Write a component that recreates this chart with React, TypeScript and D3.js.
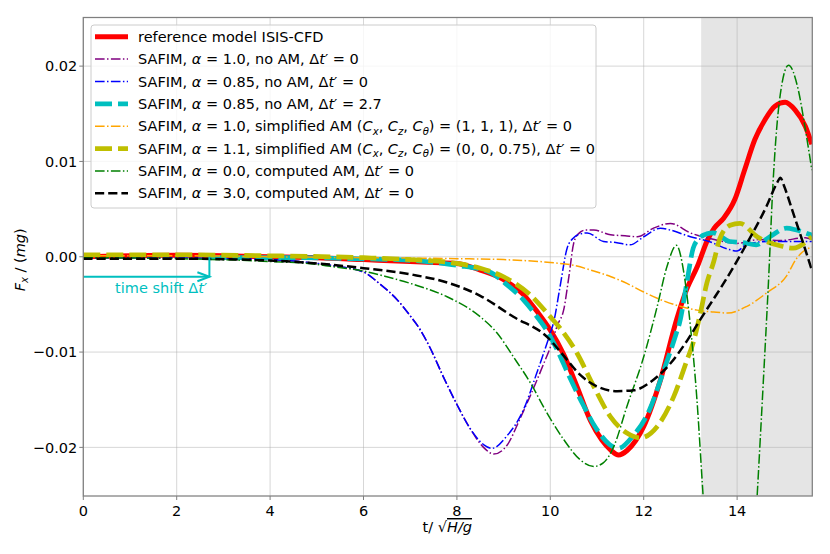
import * as d3 from 'd3';

// time axis t/sqrt(H/g), force Fx/(mg)
const tRef = [0, 1, 2, 3, 4, 5, 6, 7, 7.5, 8, 8.5, 9, 9.43, 9.71, 10, 10.29, 10.57, 10.86, 11.1, 11.3, 11.46, 11.65, 12, 12.36, 12.71, 12.93, 13.15, 13.37, 13.51, 13.72, 13.95, 14.16, 14.38, 14.6, 14.81, 15.03, 15.24, 15.46, 15.6];
const fxRef = [0.0, 0.0001, 0.00015, 0.0001, 0.0, -0.0001, -0.0003, -0.0005, -0.0006, -0.0007, -0.0014, -0.0024, -0.004, -0.0057, -0.0077, -0.0103, -0.0136, -0.0172, -0.0192, -0.0203, -0.0208, -0.0203, -0.0178, -0.0129, -0.0065, -0.0033, -0.001, 0.0018, 0.003, 0.0041, 0.006, 0.0091, 0.0123, 0.0144, 0.0158, 0.0162, 0.0154, 0.0137, 0.0118];

const tA10 = [0, 2, 3, 4, 5, 5.29, 6, 6.36, 6.72, 7.0, 7.22, 7.43, 7.71, 8.0, 8.28, 8.57, 8.79, 9.07, 9.35, 9.57, 9.86, 10.0, 10.15, 10.29, 10.4, 10.5, 10.6, 10.75, 10.93, 11.29, 11.6, 11.86, 12.21, 12.57, 13.0, 13.51, 14.0, 14.45, 14.93, 15.46, 15.6];
const fxA10 = [-0.0001, -0.0001, -0.0002, -0.0003, -0.0007, -0.0009, -0.0016, -0.0029, -0.0045, -0.0062, -0.0077, -0.0096, -0.0126, -0.0155, -0.018, -0.02, -0.0207, -0.0198, -0.017, -0.0146, -0.0112, -0.0095, -0.0072, -0.0055, -0.002, 0.0014, 0.0024, 0.0028, 0.0028, 0.0023, 0.0022, 0.0021, 0.003, 0.0035, 0.0025, 0.0018, 0.0014, 0.0018, 0.0017, 0.002, 0.0018];

const tA085 = [0, 2, 3, 4, 5, 5.29, 6, 6.36, 6.72, 7.0, 7.22, 7.43, 7.71, 8.0, 8.28, 8.57, 8.75, 9.07, 9.43, 9.71, 10, 10.07, 10.21, 10.36, 10.5, 10.65, 10.79, 11.14, 11.4, 11.71, 12, 12.36, 12.57, 13.0, 13.4, 13.8, 14.0, 14.2, 14.66, 15.6];
const fxA085 = [-0.0001, -0.0001, -0.0002, -0.0003, -0.0007, -0.0009, -0.0016, -0.0029, -0.0045, -0.0062, -0.0077, -0.0096, -0.0126, -0.0155, -0.018, -0.0197, -0.0201, -0.0188, -0.016, -0.0122, -0.008, -0.0069, -0.0031, 0.0009, 0.002, 0.0024, 0.0025, 0.0016, 0.0015, 0.00125, 0.0021, 0.003, 0.0028, 0.0021, 0.0016, 0.0008, 0.0006, 0.0013, 0.0016, 0.0016];

// same run as alpha = 0.85, shifted in time
const dtShift = 2.7;

const tSimp1 = [0, 2, 4, 6, 8, 9, 10, 10.5, 10.93, 11.3, 11.64, 12, 12.36, 12.78, 13.14, 13.5, 13.8, 14.21, 14.63, 15.06, 15.27, 15.4, 15.6];
const fxSimp1 = [0.0001, 0.0001, 0.0, -0.0001, -0.0002, -0.0003, -0.0006, -0.0009, -0.0015, -0.0021, -0.0028, -0.0037, -0.0045, -0.0052, -0.0056, -0.0058, -0.0059, -0.0052, -0.0038, -0.002, -0.0002, 0.0005, 0.001];

const tSimp2 = [0, 2, 4, 6, 7, 8, 8.5, 9, 9.57, 10, 10.21, 10.57, 10.93, 11.29, 11.64, 11.93, 12.29, 12.64, 12.93, 13.06, 13.21, 13.35, 13.5, 13.63, 13.85, 14.06, 14.43, 14.96, 15.2, 15.6];
const fxSimp2 = [0.0002, 0.0002, 0.0001, -0.0001, -0.0003, -0.0007, -0.0012, -0.0021, -0.004, -0.0063, -0.0075, -0.0101, -0.0136, -0.0168, -0.0185, -0.019, -0.0178, -0.0147, -0.0108, -0.009, -0.006, -0.0028, -0.0005, 0.0019, 0.0033, 0.0035, 0.0021, 0.0011, 0.0009, 0.0021];

const tComp0 = [0, 2, 4, 5, 5.29, 6, 6.5, 7.07, 7.79, 8.5, 8.86, 9.21, 9.57, 9.93, 10.29, 10.64, 10.93, 11.14, 11.36, 11.64, 12, 12.29, 12.5, 12.7, 12.86, 13.0, 13.14, 13.25, 13.4, 13.85, 14.3, 14.43, 14.56, 14.67, 14.77, 14.91, 15.1, 15.31, 15.45, 15.6];
const fxComp0 = [-0.0001, -0.0002, -0.0005, -0.0008, -0.001, -0.0015, -0.0021, -0.0029, -0.0042, -0.0063, -0.008, -0.0105, -0.0132, -0.0164, -0.0192, -0.0213, -0.022, -0.0216, -0.0199, -0.0157, -0.0105, -0.0052, -0.001, 0.0012, -0.0017, -0.0073, -0.015, -0.0234, -0.035, -0.05, -0.036, -0.025, -0.0132, -0.0028, 0.0078, 0.0165, 0.0201, 0.0175, 0.0137, 0.0091];

const tComp3 = [0, 2, 4, 5, 6, 7.07, 7.79, 8.5, 9.21, 9.93, 10.29, 10.64, 11, 11.43, 11.79, 12.21, 12.57, 12.93, 13.21, 13.5, 13.71, 14.21, 14.63, 14.85, 14.93, 15.0, 15.2, 15.41, 15.6];
const fxComp3 = [-0.0002, -0.0002, -0.0004, -0.0007, -0.0012, -0.0019, -0.0027, -0.0041, -0.0063, -0.0084, -0.0104, -0.0124, -0.0136, -0.0141, -0.014, -0.0129, -0.0112, -0.0088, -0.0066, -0.0044, -0.0028, 0.0014, 0.0053, 0.0077, 0.0083, 0.0075, 0.0046, 0.0015, -0.0014];

const xTicks = [0, 2, 4, 6, 8, 10, 12, 14];
const yTicks = [-0.02, -0.01, 0, 0.01, 0.02];
const xDomain: [number, number] = [0, 15.61];
const yDomain: [number, number] = [-0.0251, 0.0251];
const shadeStart = 13.23;

// legend labels: [text, style] with '' normal, 'i' italic, 's' italic subscript
type Seg = [string, string];
const legendLabels: Seg[][] = [
  [['reference model ISIS-CFD', '']],
  [['SAFIM, ', ''], ['α', 'i'], [' = 1.0, no AM, Δ', ''], ['t', 'i'], ['′ = 0', '']],
  [['SAFIM, ', ''], ['α', 'i'], [' = 0.85, no AM, Δ', ''], ['t', 'i'], ['′ = 0', '']],
  [['SAFIM, ', ''], ['α', 'i'], [' = 0.85, no AM, Δ', ''], ['t', 'i'], ['′ = 2.7', '']],
  [['SAFIM, ', ''], ['α', 'i'], [' = 1.0, simplified AM (', ''], ['C', 'i'], ['x', 's'], [', ', ''], ['C', 'i'], ['z', 's'], [', ', ''], ['C', 'i'], ['θ', 's'], [') = (1, 1, 1), Δ', ''], ['t', 'i'], ['′ = 0', '']],
  [['SAFIM, ', ''], ['α', 'i'], [' = 1.1, simplified AM (', ''], ['C', 'i'], ['x', 's'], [', ', ''], ['C', 'i'], ['z', 's'], [', ', ''], ['C', 'i'], ['θ', 's'], [') = (0, 0, 0.75), Δ', ''], ['t', 'i'], ['′ = 0', '']],
  [['SAFIM, ', ''], ['α', 'i'], [' = 0.0, computed AM, Δ', ''], ['t', 'i'], ['′ = 0', '']],
  [['SAFIM, ', ''], ['α', 'i'], [' = 3.0, computed AM, Δ', ''], ['t', 'i'], ['′ = 0', '']],
];

const width = 830;
const height = 554;
const margin = { top: 17.5, right: 17.7, bottom: 58, left: 83.3 };
const innerW = width - margin.left - margin.right;
const innerH = height - margin.top - margin.bottom;
const font = 'DejaVu Sans, sans-serif';
const fs = 14.5;

const dashDot = '9.6 2.4 1.5 2.4';

const series = [
  { t: tRef, fx: fxRef, color: '#ff0000', w: 5, dash: undefined },
  { t: tA10, fx: fxA10, color: '#800080', w: 1.5, dash: dashDot },
  { t: tA085, fx: fxA085, color: '#0000ff', w: 1.5, dash: dashDot },
  { t: tA085.map((t) => t + dtShift), fx: fxA085, color: '#00bfbf', w: 4.7, dash: '17 6' },
  { t: tSimp1, fx: fxSimp1, color: '#ffa500', w: 1.5, dash: dashDot },
  { t: tSimp2, fx: fxSimp2, color: '#bfbf00', w: 4.7, dash: '17 6' },
  { t: tComp0, fx: fxComp0, color: '#008000', w: 1.5, dash: dashDot },
  { t: tComp3, fx: fxComp3, color: '#000000', w: 2.5, dash: '9.2 4' },
];

function Label({ segs, x, y, size, color = '#000' }: { segs: Seg[]; x: number; y: number; size: number; color?: string }) {
  let shifted = false;
  return (
    <text x={x} y={y} fontFamily={font} fontSize={size} fill={color}>
      {segs.map(([s, st], i) => {
        let dy = 0;
        if (st === 's' && !shifted) { dy = size * 0.25; shifted = true; }
        else if (st !== 's' && shifted) { dy = -size * 0.25; shifted = false; }
        return (
          <tspan key={i} dy={dy || undefined}
            fontStyle={st === 'i' || st === 's' ? 'italic' : 'normal'}
            fontSize={st === 's' ? size * 0.7 : size}
            style={{ whiteSpace: 'pre' }}>
            {s}
          </tspan>
        );
      })}
    </text>
  );
}

export default function App() {
  const x = d3.scaleLinear().domain(xDomain).range([0, innerW]);
  const y = d3.scaleLinear().domain(yDomain).range([innerH, 0]);
  const fmtY = d3.format('.2f');

  const arrowY = y(-0.0021);
  const arrowX = x(dtShift);

  const line = d3.line<[number, number]>()
    .x((d) => x(d[0]))
    .y((d) => y(d[1]))
    .curve(d3.curveMonotoneX);

  return (
    <svg width={width} height={height} style={{ position: 'absolute', left: 0, top: 0, background: '#fff' }}>
      <defs>
        <clipPath id="plot-clip">
          <rect x={0} y={0} width={innerW} height={innerH} />
        </clipPath>
      </defs>
      <g transform={`translate(${margin.left},${margin.top})`}>
        {/* shaded region */}
        <rect x={x(shadeStart)} y={0} width={innerW - x(shadeStart)} height={innerH} fill="#d3d3d3" fillOpacity={0.6} />

        {/* grid */}
        {xTicks.map((t) => (
          <line key={`gx${t}`} x1={x(t)} x2={x(t)} y1={0} y2={innerH} stroke="#b0b0b0" strokeOpacity={0.5} strokeWidth={1} />
        ))}
        {yTicks.map((v) => (
          <line key={`gy${v}`} x1={0} x2={innerW} y1={y(v)} y2={y(v)} stroke="#b0b0b0" strokeOpacity={0.5} strokeWidth={1} />
        ))}

        {/* curves */}
        <g clipPath="url(#plot-clip)">
          {series.map((s, i) => {
            const pts = s.t.map((t, k) => [t, s.fx[k]] as [number, number]);
            return (
              <path key={i} d={line(pts) ?? ''} fill="none" stroke={s.color} strokeWidth={s.w}
                strokeDasharray={s.dash} strokeLinejoin="round" />
            );
          })}
        </g>

        {/* time shift annotation */}
        <g stroke="#00bfbf" strokeWidth={2} fill="none">
          <line x1={x(0)} x2={arrowX} y1={arrowY} y2={arrowY} />
          <path d={`M${arrowX - 12},${arrowY - 4.5} L${arrowX},${arrowY} L${arrowX - 12},${arrowY + 4.5}`} />
          <line x1={arrowX} x2={arrowX} y1={y(0)} y2={arrowY} />
        </g>
        <Label segs={[['time shift Δ', ''], ['t', 'i'], ['′', '']]} x={x(0.68)} y={y(-0.00385)} size={fs} color="#00bfbf" />

        {/* frame */}
        <rect x={0} y={0} width={innerW} height={innerH} fill="none" stroke="#7f7f7f" strokeWidth={1.25} />

        {/* x axis */}
        {xTicks.map((t) => (
          <g key={`xt${t}`} transform={`translate(${x(t)},${innerH})`}>
            <line y1={0} y2={4} stroke="#7f7f7f" />
            <text y={19.5} textAnchor="middle" fontFamily={font} fontSize={fs} fill="#000">{t}</text>
          </g>
        ))}
        {/* y axis */}
        {yTicks.map((v) => (
          <g key={`yt${v}`} transform={`translate(0,${y(v)})`}>
            <line x1={-4} x2={0} stroke="#7f7f7f" />
            <text x={-6} dy="0.36em" textAnchor="end" fontFamily={font} fontSize={fs} fill="#000">{fmtY(v)}</text>
          </g>
        ))}

        {/* axis labels */}
        <text x={innerW / 2 - 0.5} y={innerH + 36} textAnchor="middle" fontFamily={font} fontSize={fs} fill="#000">
          <tspan>t/ √</tspan><tspan fontStyle="italic" style={{ textDecoration: 'overline' }}>H/g</tspan>
        </text>
        <text transform={`translate(${-58},${innerH / 2 + 3}) rotate(-90)`} textAnchor="middle" fontFamily={font} fontSize={fs} fill="#000">
          <tspan fontStyle="italic">F</tspan>
          <tspan fontStyle="italic" fontSize={10} dy={3}>x</tspan>
          <tspan dy={-3}> / (</tspan>
          <tspan fontStyle="italic">mg</tspan>
          <tspan>)</tspan>
        </text>

        {/* legend */}
        <g transform={`translate(${91 - margin.left},${25 - margin.top})`}>
          <rect x={0} y={0} width={505} height={183} rx={3} fill="#fff" fillOpacity={0.8} stroke="#cccccc" strokeWidth={1} />
          {series.map((s, i) => {
            const cy = 11.7 + i * 22.37;
            return (
              <g key={`lg${i}`}>
                <line x1={4} x2={37} y1={cy} y2={cy} stroke={s.color} strokeWidth={s.w} strokeDasharray={s.dash} />
                <Label segs={legendLabels[i]} x={47} y={cy + 5.2} size={fs} />
              </g>
            );
          })}
        </g>
      </g>
    </svg>
  );
}
